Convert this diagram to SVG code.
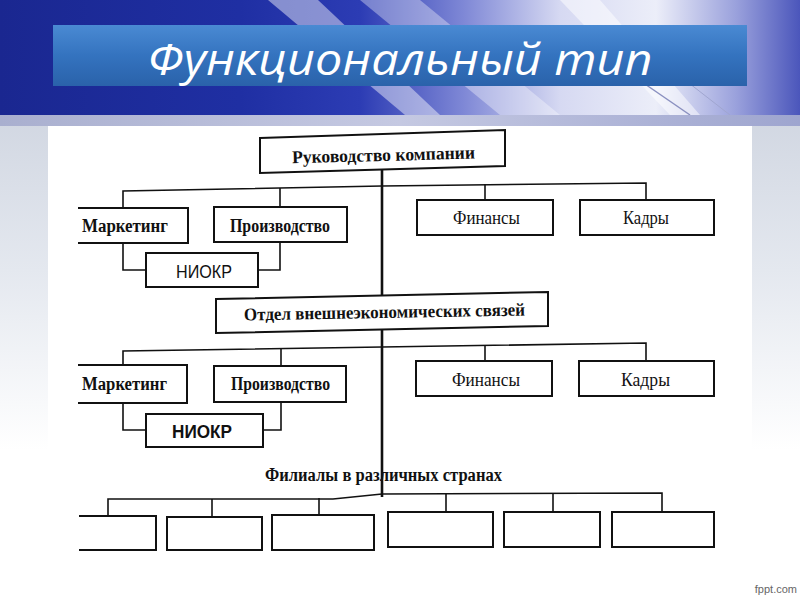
<svg xmlns="http://www.w3.org/2000/svg" width="800" height="600" viewBox="0 0 800 600">
<defs>
<linearGradient id="bg" x1="0" y1="0" x2="0" y2="1">
<stop offset="0" stop-color="#c3cad8"/>
<stop offset="0.45" stop-color="#e4e8ef"/>
<stop offset="0.75" stop-color="#ffffff"/>
<stop offset="1" stop-color="#ffffff"/>
</linearGradient>
<linearGradient id="banner" x1="0" y1="0" x2="1" y2="0">
<stop offset="0" stop-color="#1a2790"/>
<stop offset="0.3" stop-color="#1f2fa3"/>
<stop offset="0.45" stop-color="#2c3cb4"/>
<stop offset="0.58" stop-color="#7f88d6"/>
<stop offset="0.7" stop-color="#d6d9f2"/>
<stop offset="0.82" stop-color="#eceef9"/>
<stop offset="0.92" stop-color="#9aa1dc"/>
<stop offset="1" stop-color="#4b56bb"/>
</linearGradient>
<linearGradient id="strip" x1="0" y1="0" x2="1" y2="0">
<stop offset="0" stop-color="#a9afcf"/>
<stop offset="0.5" stop-color="#c5c9e2"/>
<stop offset="1" stop-color="#9ea5cf"/>
</linearGradient>
<linearGradient id="titlebox" x1="0" y1="0" x2="0" y2="1">
<stop offset="0" stop-color="#4a8ad3"/>
<stop offset="0.5" stop-color="#3473bf"/>
<stop offset="1" stop-color="#2a62aa"/>
</linearGradient>
<style>
.box{fill:#ffffff;stroke:#111111;stroke-width:2}
.ln{fill:none;stroke:#111111;stroke-width:1.6}
.trunk{fill:none;stroke:#111111;stroke-width:2.6}
.t{font-family:"Liberation Serif","Times New Roman",serif;font-size:18px;fill:#111111}
.b{font-weight:bold}
.s{font-family:"Liberation Sans",Arial,sans-serif;font-size:19px;fill:#111111}
</style>
</defs>

<!-- background -->
<rect x="0" y="0" width="800" height="600" fill="url(#bg)"/>
<rect x="0" y="0" width="800" height="115" fill="url(#banner)"/>
<polygon points="268,0 318,0 440,115 405,115" fill="#ffffff" opacity="0.45"/>
<polygon points="360,0 420,0 560,115 500,115" fill="#ffffff" opacity="0.35"/>
<polygon points="560,0 600,0 700,115 670,115" fill="#ffffff" opacity="0.5"/>
<line x1="610" y1="60" x2="690" y2="115" stroke="#8a90c0" stroke-width="1.5"/>
<line x1="640" y1="45" x2="730" y2="115" stroke="#a0a6d0" stroke-width="1"/>
<rect x="0" y="115" width="800" height="11" fill="url(#strip)"/>

<!-- title -->
<g id="title">
<rect x="53" y="25" width="694" height="61" fill="url(#titlebox)"/>
<text x="400" y="75" text-anchor="middle" font-family="'Open Sans','DejaVu Sans',sans-serif" font-style="italic" font-size="44" fill="#ffffff" textLength="505" lengthAdjust="spacingAndGlyphs">Функциональный тип</text>
</g>

<!-- white panel -->
<rect x="48" y="126" width="704" height="440" fill="#ffffff"/>

<!-- connectors -->
<g id="connectors">
<path class="trunk" d="M382,168 V497"/>
<path class="ln" d="M123,208 V191 L382,186 L646,183 V200"/>
<path class="ln" d="M280,188 V207"/>
<path class="ln" d="M485,184 V200"/>
<path class="ln" d="M123,243 V270 H146"/>
<path class="ln" d="M280,242 V270 H258"/>
<path class="ln" d="M123,365 V351 L382,347 L646,343 V361"/>
<path class="ln" d="M281,349 V366"/>
<path class="ln" d="M485,345 V361"/>
<path class="ln" d="M123,403 V430 H146"/>
<path class="ln" d="M281,402 V430 H263"/>
<path class="ln" d="M108,516 V499 H333 L382,494 L662,493 V512"/>
<path class="ln" d="M212,499 V517"/>
<path class="ln" d="M319,498 V515"/>
<path class="ln" d="M446,494 V512"/>
<path class="ln" d="M553,494 V512"/>
</g>

<!-- level 1 -->
<g id="n-head">
<polygon class="box" points="260,138 505,130 505,166 260,173"/>
<text class="t b" x="292" y="161" textLength="183" lengthAdjust="spacingAndGlyphs" transform="rotate(-1.5 382 155)">Руководство компании</text>
</g>
<g id="n-mkt1">
<path class="box" d="M78,208 H188 V243 H78"/>
<text class="t b" x="82" y="232" textLength="86" lengthAdjust="spacingAndGlyphs">Маркетинг</text>
</g>
<g id="n-prod1">
<rect class="box" x="214" y="207" width="133" height="35"/>
<text class="t b" x="230" y="232" textLength="100" lengthAdjust="spacingAndGlyphs">Производство</text>
</g>
<g id="n-niokr1">
<rect class="box" x="146" y="253" width="112" height="34"/>
<text class="s" x="176" y="278" textLength="56" lengthAdjust="spacingAndGlyphs">НИОКР</text>
</g>
<g id="n-fin1">
<rect class="box" x="417" y="200" width="136" height="35"/>
<text class="t" x="453" y="224" textLength="67" lengthAdjust="spacingAndGlyphs">Финансы</text>
</g>
<g id="n-hr1">
<rect class="box" x="580" y="200" width="134" height="35"/>
<text class="t" x="623" y="224" textLength="46" lengthAdjust="spacingAndGlyphs">Кадры</text>
</g>

<!-- level 2 -->
<g id="n-foreign">
<polygon class="box" points="216,299 548,292 548,326 216,333"/>
<text class="t b" x="244" y="318" font-size="17" textLength="281" lengthAdjust="spacingAndGlyphs" transform="rotate(-1 383 313)">Отдел внешнеэкономических связей</text>
</g>
<g id="n-mkt2">
<path class="box" d="M78,365 H187 V403 H78"/>
<text class="t b" x="82" y="390" textLength="85" lengthAdjust="spacingAndGlyphs">Маркетинг</text>
</g>
<g id="n-prod2">
<rect class="box" x="214" y="366" width="132" height="36"/>
<text class="t b" x="231" y="390" textLength="99" lengthAdjust="spacingAndGlyphs">Производство</text>
</g>
<g id="n-niokr2">
<rect class="box" x="146" y="414" width="117" height="33"/>
<text class="s b" x="172" y="438" textLength="60" lengthAdjust="spacingAndGlyphs">НИОКР</text>
</g>
<g id="n-fin2">
<rect class="box" x="416" y="361" width="136" height="35"/>
<text class="t" x="452" y="386" textLength="68" lengthAdjust="spacingAndGlyphs">Финансы</text>
</g>
<g id="n-hr2">
<rect class="box" x="579" y="361" width="135" height="35"/>
<text class="t" x="621" y="386" textLength="49" lengthAdjust="spacingAndGlyphs">Кадры</text>
</g>

<!-- branches -->
<g id="n-branches-label">
<text class="t b" x="265" y="481" textLength="237" lengthAdjust="spacingAndGlyphs">Филиалы в различных странах</text>
</g>
<g id="n-br1"><path class="box" d="M79,516 H156 V550 H79"/></g>
<g id="n-br2"><rect class="box" x="167" y="517" width="95" height="33"/></g>
<g id="n-br3"><rect class="box" x="272" y="515" width="102" height="35"/></g>
<g id="n-br4"><rect class="box" x="388" y="512" width="105" height="35"/></g>
<g id="n-br5"><rect class="box" x="504" y="512" width="96" height="35"/></g>
<g id="n-br6"><rect class="box" x="612" y="512" width="102" height="35"/></g>

<text x="797" y="593" text-anchor="end" font-family="'Liberation Sans',Arial,sans-serif" font-size="11" fill="#666666">fppt.com</text>
</svg>
